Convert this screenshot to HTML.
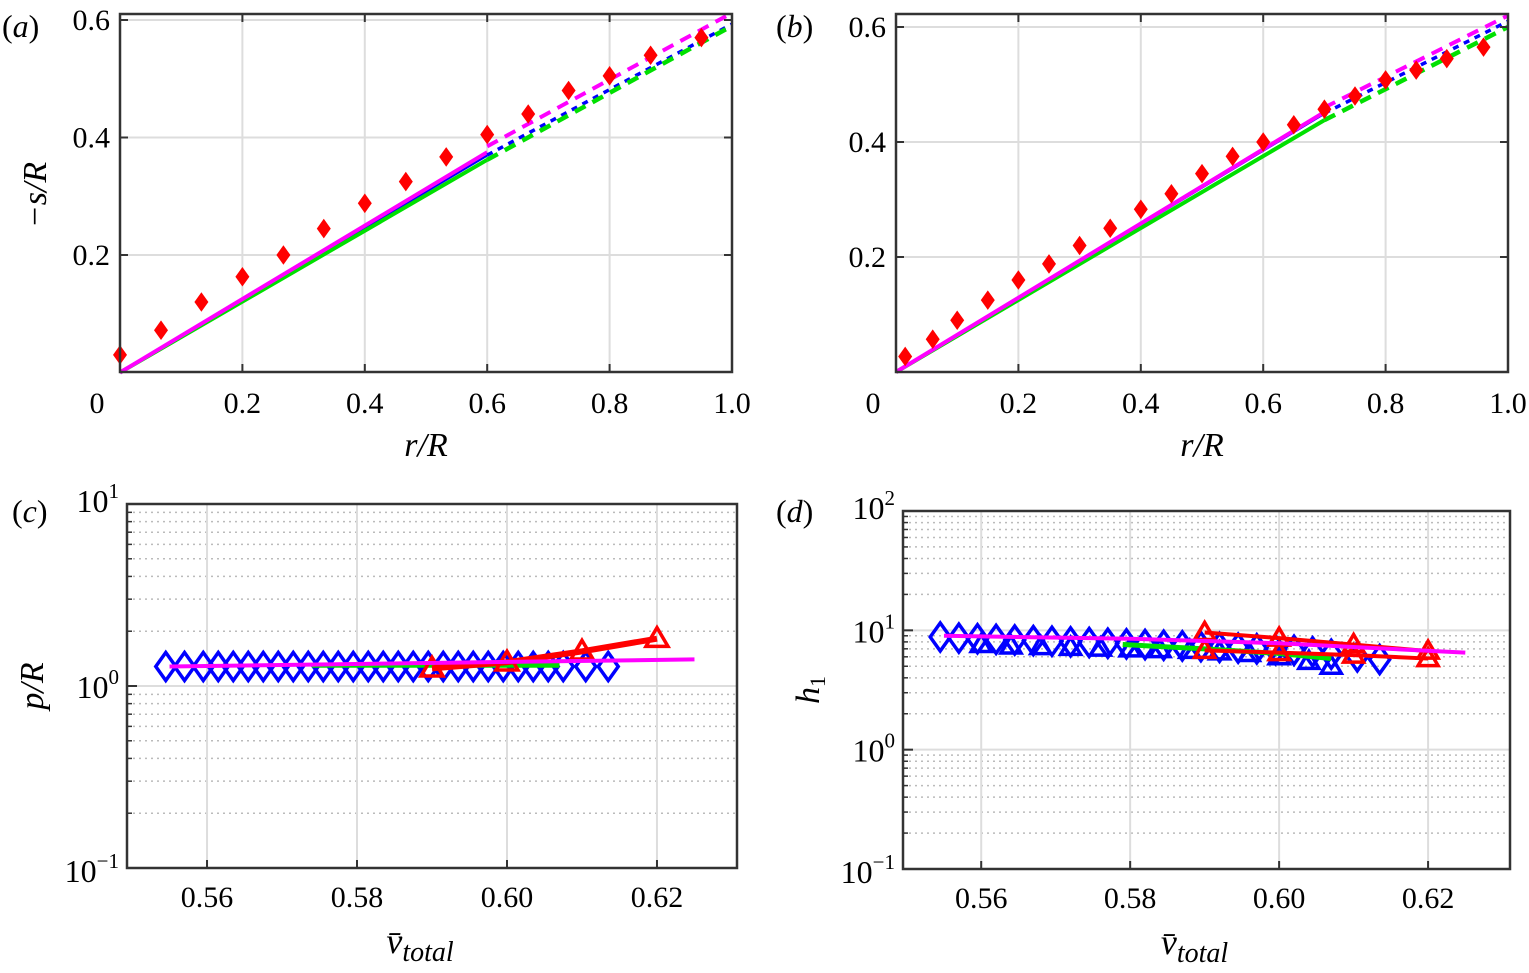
<!DOCTYPE html>
<html><head><meta charset="utf-8"><style>
body{margin:0;background:#fff}
svg{display:block;font-family:"Liberation Serif",serif}
</style></head><body>
<svg id="s" width="1529" height="973" viewBox="0 0 1529 973" xmlns="http://www.w3.org/2000/svg"></svg>
<script>
// ---- data panel a
const aDiaX=[0.0,0.067,0.133,0.2,0.267,0.333,0.4,0.467,0.533,0.6,0.667,0.733,0.8,0.867,0.95];
const aDiaY=[0.03,0.072,0.12,0.163,0.2,0.245,0.288,0.325,0.367,0.405,0.44,0.48,0.505,0.54,0.57];
const aSolidX=[0,0.6];
const aBlueSolid=[0,0.37];const aMagSolid=[0,0.375];const aGreenSolid=[0,0.362];
const aDashX=[0.6,1.0];
const aBlueDash=[0.37,0.593];const aMagDash=[0.385,0.612];const aGreenDash=[0.362,0.59];
// ---- data panel b
const bDiaX=[0.015,0.06,0.1,0.15,0.2,0.25,0.3,0.35,0.4,0.45,0.5,0.55,0.6,0.65,0.7,0.75,0.8,0.85,0.9,0.96];
const bDiaY=[0.027,0.057,0.09,0.125,0.16,0.188,0.22,0.25,0.283,0.31,0.345,0.375,0.4,0.43,0.457,0.48,0.508,0.525,0.545,0.565];
const bSolidX=[0,0.7];
const bBlueSolid=[0,0.45];const bMagSolid=[0,0.452];const bGreenSolid=[0,0.438];
const bDashX=[0.7,1.0];
const bBlueDash=[0.45,0.61];const bMagDash=[0.46,0.62];const bGreenDash=[0.438,0.6];
// ---- data panel c
const cDiaX=[0.5545,0.557,0.5595,0.5615,0.5635,0.5655,0.5675,0.5695,0.5715,0.5735,0.5755,0.5775,0.5795,0.5815,0.5835,0.5855,0.5875,0.5895,0.5915,0.5935,0.5955,0.5975,0.5995,0.6015,0.6035,0.6055,0.6075,0.6105,0.6135];
const cDiaY=[1.28,1.28,1.28,1.28,1.28,1.28,1.28,1.28,1.28,1.28,1.28,1.28,1.28,1.28,1.28,1.28,1.28,1.28,1.28,1.28,1.28,1.28,1.28,1.28,1.28,1.28,1.28,1.28,1.28];
const cTriX=[0.59,0.60,0.61,0.62];
const cTriY=[1.25,1.35,1.55,1.82];
const cGreenX=[0.574,0.607];const cGreenY=[1.3,1.3];
const cMagX=[0.555,0.625];const cMagY=[1.28,1.4];
// ---- data panel d
const dDiaX=[0.5545,0.557,0.5595,0.562,0.5645,0.567,0.5695,0.572,0.5745,0.577,0.5795,0.582,0.5845,0.587,0.5895,0.592,0.5945,0.597,0.5995,0.602,0.6045,0.607,0.6105,0.6135];
const dDiaY=[8.8,8.6,8.5,8.4,8.3,8.2,8.1,8.0,7.9,7.8,7.7,7.6,7.5,7.4,7.3,7.2,7.1,7.0,6.9,6.8,6.6,6.3,6.0,5.7];
const dTriX=[0.56,0.564,0.568,0.572,0.576,0.58,0.584,0.588,0.592,0.596,0.6,0.604,0.607];
const dTriY=[7.6,7.4,7.3,7.2,7.1,7.0,6.9,6.8,6.6,6.4,6.0,5.5,5.0];
const dRedX=[0.59,0.60,0.61,0.62];
const dRedY1=[9.6,8.6,7.6,6.7];
const dRedY2=[6.8,6.5,6.2,5.8];
const dGreenX=[0.579,0.59,0.60,0.607];const dGreenY=[7.6,7.0,6.4,5.8];
const dMagX=[0.555,0.58,0.60,0.625];const dMagY=[9.0,8.5,7.8,6.5];

const NS="http://www.w3.org/2000/svg";const S=document.getElementById('s');
function el(t,a,p){const e=document.createElementNS(NS,t);for(const k in a)e.setAttribute(k,a[k]);(p||S).appendChild(e);return e;}
function txt(x,y,s,size,anchor,name,style){const t=el('text',{x:x,y:y,'font-size':size,'text-anchor':anchor||'middle'});t.innerHTML=s;if(style)t.setAttribute('font-style',style);

return t;}
function lin(d0,d1,p0,p1){return v=>p0+(v-d0)/(d1-d0)*(p1-p0);}
function logs(d0,d1,p0,p1){return v=>p0+(Math.log10(v)-d0)/(d1-d0)*(p1-p0);}
function box(L,T,R,B,name){const r=el('rect',{x:L,y:T,width:R-L,height:B-T,fill:'none',stroke:'#333','stroke-width':2.5});

}
function gl(x1,y1,x2,y2,dotted){el('line',{x1,y1,x2,y2,stroke:dotted?'#bbb':'#ddd','stroke-width':dotted?1.5:2,'stroke-dasharray':dotted?'2 4':'none'});}
function line(xs,ys,X,Y,color,w,dash,name){const p=xs.map((v,i)=>X(v)+','+Y(ys[i])).join(' ');const l=el('polyline',{points:p,fill:'none',stroke:color,'stroke-width':w,'stroke-dasharray':dash||'none'});

}
function diamonds(xs,ys,X,Y,fill,stroke,sz,name){const g=el('g',{});


xs.forEach((v,i)=>{const x=X(v),y=Y(ys[i]);el('polygon',{points:`${x},${y-sz*1.4} ${x+sz},${y} ${x},${y+sz*1.4} ${x-sz},${y}`,fill:fill,stroke:stroke,'stroke-width':fill=='none'?3.5:0},g);});}
function tris(xs,ys,X,Y,color,sz,name){const g=el('g',{});


xs.forEach((v,i)=>{const x=X(v),y=Y(ys[i]);el('polygon',{points:`${x},${y-sz} ${x+sz},${y+sz*0.7} ${x-sz},${y+sz*0.7}`,fill:'none',stroke:color,'stroke-width':3.5},g);});}
function plabel(x,y,letter,name){txt(x,y,'(<tspan font-style="italic">'+letter+'</tspan>)',32,'start',name);}

// ---- panel a/b (linear)
function linPanel(L,R,T,B,y0pix,ySpan,yTicks,letter,lx,dia,diaY,sx,bs,ms,gs,dx,bd,md,gd,pfx){
 const X=lin(0,1,L,R),YY=v=>y0pix-(v/0.2)*ySpan;
 [0.2,0.4,0.6,0.8].forEach(v=>gl(X(v),T,X(v),B));
 yTicks.forEach(v=>gl(L,YY(v),R,YY(v)));
 line(sx,bs,X,YY,'#0000ff',3,null,pfx+'-blue-solid');
 line(sx,gs,X,YY,'#00e000',4,null,pfx+'-green-solid');
 line(sx,ms,X,YY,'#ff00ff',4,null,pfx+'-magenta-solid');
 line(dx,bd,X,YY,'#0000ff',3.5,'6 6',pfx+'-blue-dash');
 line(dx,gd,X,YY,'#00e000',4.5,'12 8',pfx+'-green-dash');
 line(dx,md,X,YY,'#ff00ff',4,'12 8',pfx+'-magenta-dash');
 diamonds(dia,diaY,X,YY,'#ff0000','none',7,pfx+'-red-diamonds');
 box(L,T,R,B,pfx+'-axes-box');
 [0.2,0.4,0.6,0.8].forEach(v=>{el('line',{x1:X(v),y1:T,x2:X(v),y2:T+8,stroke:'#333','stroke-width':2});el('line',{x1:X(v),y1:B,x2:X(v),y2:B-8,stroke:'#333','stroke-width':2});});
 yTicks.forEach(v=>{el('line',{x1:L,y1:YY(v),x2:L+8,y2:YY(v),stroke:'#333','stroke-width':2});el('line',{x1:R,y1:YY(v),x2:R-8,y2:YY(v),stroke:'#333','stroke-width':2});});
 txt(L-23,B+41,'0',30,'middle',pfx+'-x-tick-0');
 [0.2,0.4,0.6,0.8].forEach(v=>txt(X(v),B+41,v.toFixed(1),30,'middle',pfx+'-x-tick'));
 txt(R,B+41,'1.0',30,'middle',pfx+'-x-tick-1');
 yTicks.forEach(v=>txt(L-10,YY(v)+10,v.toFixed(1),30,'end',pfx+'-y-tick'));
 txt((L+R)/2,B+84,'r/R',34,'middle',pfx+'-x-axis-title','italic');
 plabel(lx,37,letter,pfx+'-panel-label');
}
linPanel(120,732,14,372,372.5,117.5,[0.2,0.4,0.6],'a',2,aDiaX,aDiaY,aSolidX,aBlueSolid,aMagSolid,aGreenSolid,aDashX,aBlueDash,aMagDash,aGreenDash,'panel-a');
linPanel(896,1508,14,372,372,115,[0.2,0.4,0.6],'b',776,bDiaX,bDiaY,bSolidX,bBlueSolid,bMagSolid,bGreenSolid,bDashX,bBlueDash,bMagDash,bGreenDash,'panel-b');
{const t=txt(46,195,'−s/R',34,'middle','panel-a-y-axis-title','italic');t.setAttribute('transform','rotate(-90 46 195)');}

// ---- log panels
function logPanel(L,R,T,B,d0,d1,xmin,xmax,pfx,letter,lx,ytitle){
 const X=lin(xmin,xmax,L,R);const Y=logs(d0,d1,B,T);
 for(let d=d0;d<d1;d++){for(let m=2;m<=9;m++){const y=Y(m*Math.pow(10,d));gl(L,y,R,y,true);}
   if(d>d0)gl(L,Y(Math.pow(10,d)),R,Y(Math.pow(10,d)));}
 [0.56,0.58,0.60,0.62].forEach(v=>gl(X(v),T,X(v),B));
 box(L,T,R,B,pfx+'-axes-box');
 for(let d=d0;d<=d1;d++){const y=Y(Math.pow(10,d));el('line',{x1:L,y1:y,x2:L+10,y2:y,stroke:'#333','stroke-width':2});
  txt(L-8,y+(d==d0?14:d==d1?8:12),'10<tspan font-size="21" dy="-14">'+(d<0?'−'+(-d):d)+'</tspan>',32,'end',pfx+'-y-tick');
  if(d<d1)for(let m=2;m<=9;m++){const yy=Y(m*Math.pow(10,d));el('line',{x1:L,y1:yy,x2:L+5,y2:yy,stroke:'#333','stroke-width':1.5});}}
 [0.56,0.58,0.60,0.62].forEach(v=>{el('line',{x1:X(v),y1:B,x2:X(v),y2:B-8,stroke:'#333','stroke-width':2});txt(X(v),B+39,v.toFixed(2),30,'middle',pfx+'-x-tick');});
 txt((L+R)/2-12,B+85,'<tspan>v̄</tspan><tspan font-size="28" dy="8">total</tspan>',36,'middle',pfx+'-x-axis-title','italic');
 plabel(lx,522,letter,pfx+'-panel-label');
 const t=txt(L-84,(T+B)/2,ytitle,34,'middle',pfx+'-y-axis-title','italic');t.setAttribute('transform',`rotate(-90 ${L-84} ${(T+B)/2})`);
 return [X,Y];
}
{const [X,Y]=logPanel(127,737,504,868,-1,1,0.54933,0.63067,'panel-c','c',12,'p/R');
 diamonds(cDiaX,cDiaY,X,Y,'none','#0000ff',10,'panel-c-blue-diamonds');
 line(cGreenX,cGreenY,X,Y,'#00e000',5,null,'panel-c-green-line');
 line(cTriX,cTriY,X,Y,'#ff0000',6,null,'panel-c-red-line');
 tris(cTriX,cTriY,X,Y,'#ff0000',11,'panel-c-red-triangles');
 line(cMagX,cMagY,X,Y,'#ff00ff',4,null,'panel-c-magenta-line');}
{const [X,Y]=logPanel(903,1510,511,869,-1,2,0.5495,0.631,'panel-d','d',776,'h<tspan font-size="22" dy="6" font-style="normal">1</tspan>');
 diamonds(dDiaX,dDiaY,X,Y,'none','#0000ff',10,'panel-d-blue-diamonds');
 tris(dTriX,dTriY,X,Y,'#0000ff',10,'panel-d-blue-triangles');
 line(dGreenX,dGreenY,X,Y,'#00e000',5,null,'panel-d-green-line');
 line(dRedX,dRedY1,X,Y,'#ff0000',4,null,'panel-d-red-line-1');
 line(dRedX,dRedY2,X,Y,'#ff0000',4,null,'panel-d-red-line-2');
 tris(dRedX,dRedY1,X,Y,'#ff0000',10,'panel-d-red-triangles-1');
 tris(dRedX,dRedY2,X,Y,'#ff0000',10,'panel-d-red-triangles-2');
 line(dMagX,dMagY,X,Y,'#ff00ff',4,null,'panel-d-magenta-line');}
</script>
</body></html>
